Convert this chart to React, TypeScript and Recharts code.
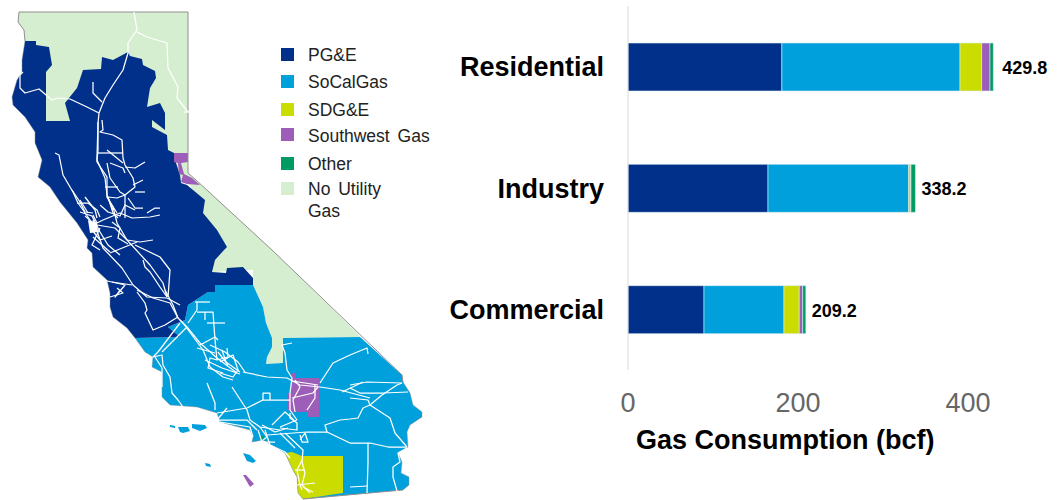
import React from 'react';
import { BarChart, Bar, XAxis, YAxis, Legend, LabelList, Customized } from 'recharts';

const categories = ['Residential', 'Industry', 'Commercial'];
const pge = [181, 164.7, 89.4];
const socal = [209.6, 165.5, 94.1];
const sdge = [25.5, 2.5, 18];
const southwest = [9.8, 0.2, 4];
const other = [3.9, 5.3, 3.7];
const totals = [429.8, 338.2, 209.2];
const xTicks = [0, 200, 400];

const NAVY = '#00308A';
const BLUE = '#00A0DC';
const LIME = '#CADC00';
const PURPLE = '#9C5EB8';
const GREEN = '#009B62';
const PALE = '#D6EED0';

const legendItems = [
  { name: 'PG&E', color: NAVY },
  { name: 'SoCalGas', color: BLUE },
  { name: 'SDG&E', color: LIME },
  { name: 'Southwest Gas', color: PURPLE },
  { name: 'Other', color: GREEN },
  { name: 'No Utility', name2: 'Gas', color: PALE },
];
const legendTops = [48, 75, 103, 128, 157, 182];
const legendTextShift = [0, 0, 0, 1, 0, 0];

const rows = categories.map((name, i) => ({
  name,
  pge: pge[i],
  socal: socal[i],
  sdge: sdge[i],
  southwest: southwest[i],
  other: other[i],
  total: totals[i],
}));

// service territory map, traced by hand in page pixels
const northArea = '19,12 188,12 188,173 196,180 272,250 357,333 360,337 283,338 283,363 266,364 267,357 272,347 272,338 266,323 263,307 253,287 253,270 212,272 217,250 190,185 100,140 40,130 25,41 24,30 20,25 18,22';
const southArea = '135,338 180,337 168,327 185,320 188,305 208,292 215,285 253,285 263,307 266,323 272,338 272,347 267,357 266,364 283,363 283,338 360,337 402,375 403,382 410,393 413,405 422,412 422,417 410,425 407,432 408,447 398,453 402,462 401,473 409,477 409,485 403,490 370,493 303,499 298,493 297,477 293,470 285,453 263,440 252,442 253,437 250,430 220,422 217,413 197,407 170,405 162,397 162,383 162,372 152,367 153,357 145,352';
const pgeArea = '25,41 36,41 36,45 49,47 52,65 46,72 46,121 70,121 65,103 77,88 83,70 101,69 102,57 113,60 128,52 130,56 142,59 143,65 155,71 156,78 150,88 147,107 160,103 165,113 165,130 152,120 152,127 167,135 168,150 174,153 175,160 180,175 181,183 187,185 205,200 203,213 217,230 227,247 224,250 215,260 212,272 226,273 227,268 243,267 253,278 253,285 215,285 215,292 208,292 188,305 185,320 168,327 180,337 135,338 127,328 113,317 110,307 110,293 107,280 93,267 92,253 87,248 88,240 77,223 60,202 50,187 38,177 42,160 35,143 35,132 25,117 13,105 12,97 17,80 22,72 22,60';
const sdgeArea = '285,453 292,452 302,456 343,456 343,493 303,499 298,493 297,477 293,470';
const swNorth = '174,153 188,153 188,162 181,163 184,174 192,178 200,185 187,184 181,182 183,175 179,174 178,163 174,162';
const swSouth = '292,373 296,373 296,378 319,378 319,417 307,417 307,412 292,412 288,410 288,393 292,393';
const swIsland = '243,475 246,475 254,484 250,487';
const otherSpot = '260,436 264,436 264,439 260,440';
const blueIslands = [
  '170,425 175,426 175,428 170,427',
  '178,427 188,427 190,431 183,433 180,432',
  '192,424 205,425 207,428 200,431 192,428',
  '243,453 250,455 256,461 253,463 247,461',
  '205,463 210,464 211,467 206,466',
];
const edgeLines = [
  '19,12 188,12 188,173 196,180 272,250 402,375 403,382',
  '19,12 18,22 24,30 25,41',
  '303,499 403,490',
];
const coastLines = [
  '25,41 22,60 22,72 17,80 12,97 13,105 25,117 35,132 35,143 42,160 38,177 50,187 60,202 77,223 88,240 87,248 92,253 93,267 107,280 110,293 110,307 113,317 127,328 135,338 145,352 153,357 152,367 162,372 162,383 162,397 170,405 197,407 217,413 220,422 250,430 253,437 252,442 263,440 285,453 293,470 297,477 298,493 303,499',
  '403,382 410,393 413,405 422,412 422,417 410,425 407,432 408,447 398,453 402,462 401,473 409,477 409,485 403,490',
];
const pipelines = [
  '134,12 137,30 128,43 128,53 123,70 113,85 105,98 99,113 98,123 97,157 97,162 107,177 107,197 117,213',
  '137,32 147,37 167,43 168,68 178,87 177,98 188,112',
  '184,112 189,112',
  '23,72 20,75 20,88 25,93 39,89 52,100 58,98 70,99 87,107 99,113',
  '93,82 93,93 102,102',
  '55,153 59,155 63,175 73,192 78,203 83,210 90,220',
  '98,122 98,150 97,160 105,178 107,195 113,210',
  '102,120 103,130 100,132 113,135 122,140 123,158 125,165 133,178 135,187 125,195 117,198 108,197',
  '98,153 123,153',
  '107,150 123,163',
  '107,163 110,178 120,192 125,195',
  '105,187 118,187',
  '110,163 123,168 125,173',
  '125,167 135,168 145,162',
  '133,185 143,180',
  '135,192 145,192',
  '128,198 135,208 143,208',
  '147,213 155,208 160,208',
  '108,197 113,213 118,218',
  '125,195 125,218',
  '85,197 95,210 97,218',
  '80,200 88,213',
  '72,190 80,202 85,212 93,213',
  '77,203 88,203 97,210 100,217',
  '93,215 97,223 103,220 120,213 132,218 150,217 160,215',
  '107,197 113,207 117,223 127,240 150,265 163,283 167,297',
  '93,220 103,248 122,268 133,285 147,297 167,298 180,305',
  '93,237 110,252',
  '127,240 140,242 153,240',
  '110,253 137,242',
  '135,245 160,257 170,270 168,297',
  '143,260 145,267 150,272 160,287 167,297',
  '120,290 115,297 125,285 103,280',
  '112,282 132,285',
  '117,288 123,293 110,297',
  '80,212 92,216 100,232 108,245 120,255',
  '97,225 115,228 127,240',
  '100,205 108,212 120,216 125,205 135,210',
  '112,222 120,228 118,238 128,244',
  '92,230 100,240 112,236',
  '85,216 92,222',
  '100,228 92,245 100,250',
  '137,290 153,298 170,303 178,318 187,327 200,343 217,358 237,373',
  '165,290 173,305 178,318',
  '137,292 145,303 147,310 145,313 153,330 165,325 173,320 178,317',
  '180,320 183,323 203,350 210,367 223,377 233,380',
  '180,323 158,352 153,357 162,355 163,365 170,377 172,393 178,400 183,407',
  '187,327 162,352',
  '155,357 162,368 162,387',
  '195,302 210,302',
  '197,302 197,310 188,323',
  '197,312 213,312 215,340 217,360',
  '205,312 205,320',
  '207,323 225,323',
  '197,348 215,353',
  '200,345 215,337 218,340',
  '227,348 228,357 217,360 210,358 208,368 223,373',
  '220,362 233,355 238,370 233,377 220,373',
  '210,345 225,352 238,362 245,372',
  '205,360 222,368 240,374',
  '222,350 226,362 240,372',
  '218,352 228,365',
  '207,383 215,403 215,410',
  '243,372 267,377 287,378 300,385 320,387 340,390 370,398',
  '320,383 333,363 350,355 367,348 368,354',
  '282,345 285,353 287,370 292,378 290,393 290,410 297,420',
  '282,345 292,343',
  '232,387 247,410 250,420 260,427 280,430',
  '217,413 247,408 263,400 290,400',
  '263,400 263,393 270,393 270,400',
  '227,408 217,420 247,420 257,430',
  '220,422 250,427 253,437',
  '260,427 267,437 263,440',
  '280,427 297,420',
  '262,425 275,432 288,428',
  '272,425 285,412 294,420',
  '265,430 270,445 285,452 290,458',
  '258,430 262,442 275,442',
  '280,433 295,448',
  '267,435 307,432 327,432 350,443 370,443 388,447 407,447',
  '327,432 325,425 340,420 350,419 358,418 363,408 370,405 382,395 397,385 402,383',
  '350,385 367,382 402,383',
  '342,392 363,382',
  '350,388 360,393 383,393 408,392',
  '350,398 368,400 370,405 390,418 395,433 407,447',
  '368,443 368,463 367,493',
  '350,487 367,486',
  '407,448 398,453 400,462 393,467 393,477 397,491',
  '292,381 318,385',
  '292,398 313,393 318,387',
  '295,380 300,387 293,400 295,412',
  '315,385 315,398 307,410',
  '290,413 290,418 297,423 297,430 280,428',
  '285,433 303,450 302,462 305,473 302,485 310,493',
  '302,460 297,470 300,485 302,490',
  '300,435 302,442 308,442 305,433 300,440',
  '297,485 315,483',
  '295,470 305,470',
  '303,487 313,492',
];

const CaliforniaMap = () => (
  <g>
    <polygon points={northArea} fill={PALE} />
    <polygon points={southArea} fill={BLUE} />
    <polygon points={pgeArea} fill={NAVY} />
    <polygon points={sdgeArea} fill={LIME} />
    <polygon points={swNorth} fill={PURPLE} />
    <polygon points={swSouth} fill={PURPLE} />
    <polygon points={swIsland} fill={PURPLE} />
    <polygon points={otherSpot} fill={GREEN} />
    {blueIslands.map((p, i) => <polygon key={i} points={p} fill={BLUE} />)}
    {edgeLines.map((p, i) => <polyline key={i} points={p} fill="none" stroke="#8f8f8f" strokeWidth={1} />)}
    {coastLines.map((p, i) => <polyline key={i} points={p} fill="none" stroke="#8f8f8f" strokeOpacity={0.45} strokeWidth={1} />)}
    <polygon points="88,220 97,223 98,232 90,233" fill="#fff" />
    {pipelines.map((p, i) => (
      <polyline key={i} points={p} fill="none" stroke="#fff" strokeWidth={1.25} strokeLinejoin="round" />
    ))}
  </g>
);

// height 0 so the legend takes no room from the plot
const MapLegend = () => (
  <div style={{ position: 'relative', width: 200, height: 0, fontFamily: '"Liberation Sans", Arial, sans-serif', fontSize: 17.5, color: '#222' }}>
    {legendItems.map((item, i) => (
      <div key={item.name} style={{ position: 'absolute', left: 0, top: legendTops[i] - 48 }}>
        <div style={{ position: 'absolute', left: 0, top: 0, width: 13, height: 13, background: item.color }} />
        <div style={{ position: 'absolute', left: 27, top: legendTextShift[i] - 3, lineHeight: '21.5px', whiteSpace: 'nowrap', wordSpacing: 3 }}>
          {item.name}
          {item.name2 && <br />}
          {item.name2}
        </div>
      </div>
    ))}
  </div>
);

// the source sets the first total a little further from its bar
const totalGaps = [9, 6, 6];

const TotalLabel = (props: any) => {
  const { x, y, width, height, value, index } = props;
  return (
    <text x={x + width + totalGaps[index]} y={y + height / 2 + 7} fontSize={18} fontWeight={700} fill="#000">
      {value}
    </text>
  );
};

const App = () => (
  <div style={{ position: 'absolute', left: 0, top: 0 }}>
    <BarChart
      width={1062}
      height={500}
      data={rows}
      layout="vertical"
      margin={{ top: 6, right: 9, bottom: 0, left: 400 }}
      style={{ fontFamily: '"Liberation Sans", Arial, sans-serif' }}
    >
      <Customized component={CaliforniaMap} />
      <XAxis
        type="number"
        domain={[0, 500]}
        ticks={xTicks}
        height={130}
        axisLine={false}
        tickLine={false}
        tickMargin={17}
        tick={{ fontSize: 27, fill: '#666' }}
        label={{ value: 'Gas Consumption (bcf)', position: 'insideBottomLeft', dx: 3, dy: -46, fontSize: 27, fontWeight: 700, fill: '#000' }}
      />
      <YAxis
        type="category"
        dataKey="name"
        width={228}
        axisLine={{ stroke: '#d9d9d9' }}
        tickLine={false}
        tickMargin={18}
        tick={{ fontSize: 27, fontWeight: 700, fill: '#000' }}
      />
      <Legend
        content={<MapLegend />}
        wrapperStyle={{ position: 'absolute', left: 281, top: 48, width: 200, bottom: 'auto' }}
      />
      <Bar dataKey="pge" stackId="a" fill={NAVY} barSize={48} stroke="#dcecf4" strokeWidth={0.6} isAnimationActive={false} />
      <Bar dataKey="socal" stackId="a" fill={BLUE} barSize={48} stroke="#dcecf4" strokeWidth={0.6} isAnimationActive={false} />
      <Bar dataKey="sdge" stackId="a" fill={LIME} barSize={48} stroke="#dcecf4" strokeWidth={0.6} isAnimationActive={false} />
      <Bar dataKey="southwest" stackId="a" fill={PURPLE} barSize={48} stroke="#dcecf4" strokeWidth={0.6} isAnimationActive={false} />
      <Bar dataKey="other" stackId="a" fill={GREEN} barSize={48} stroke="#dcecf4" strokeWidth={0.6} isAnimationActive={false}>
        <LabelList dataKey="total" content={<TotalLabel />} />
      </Bar>
    </BarChart>
  </div>
);

export default App;
